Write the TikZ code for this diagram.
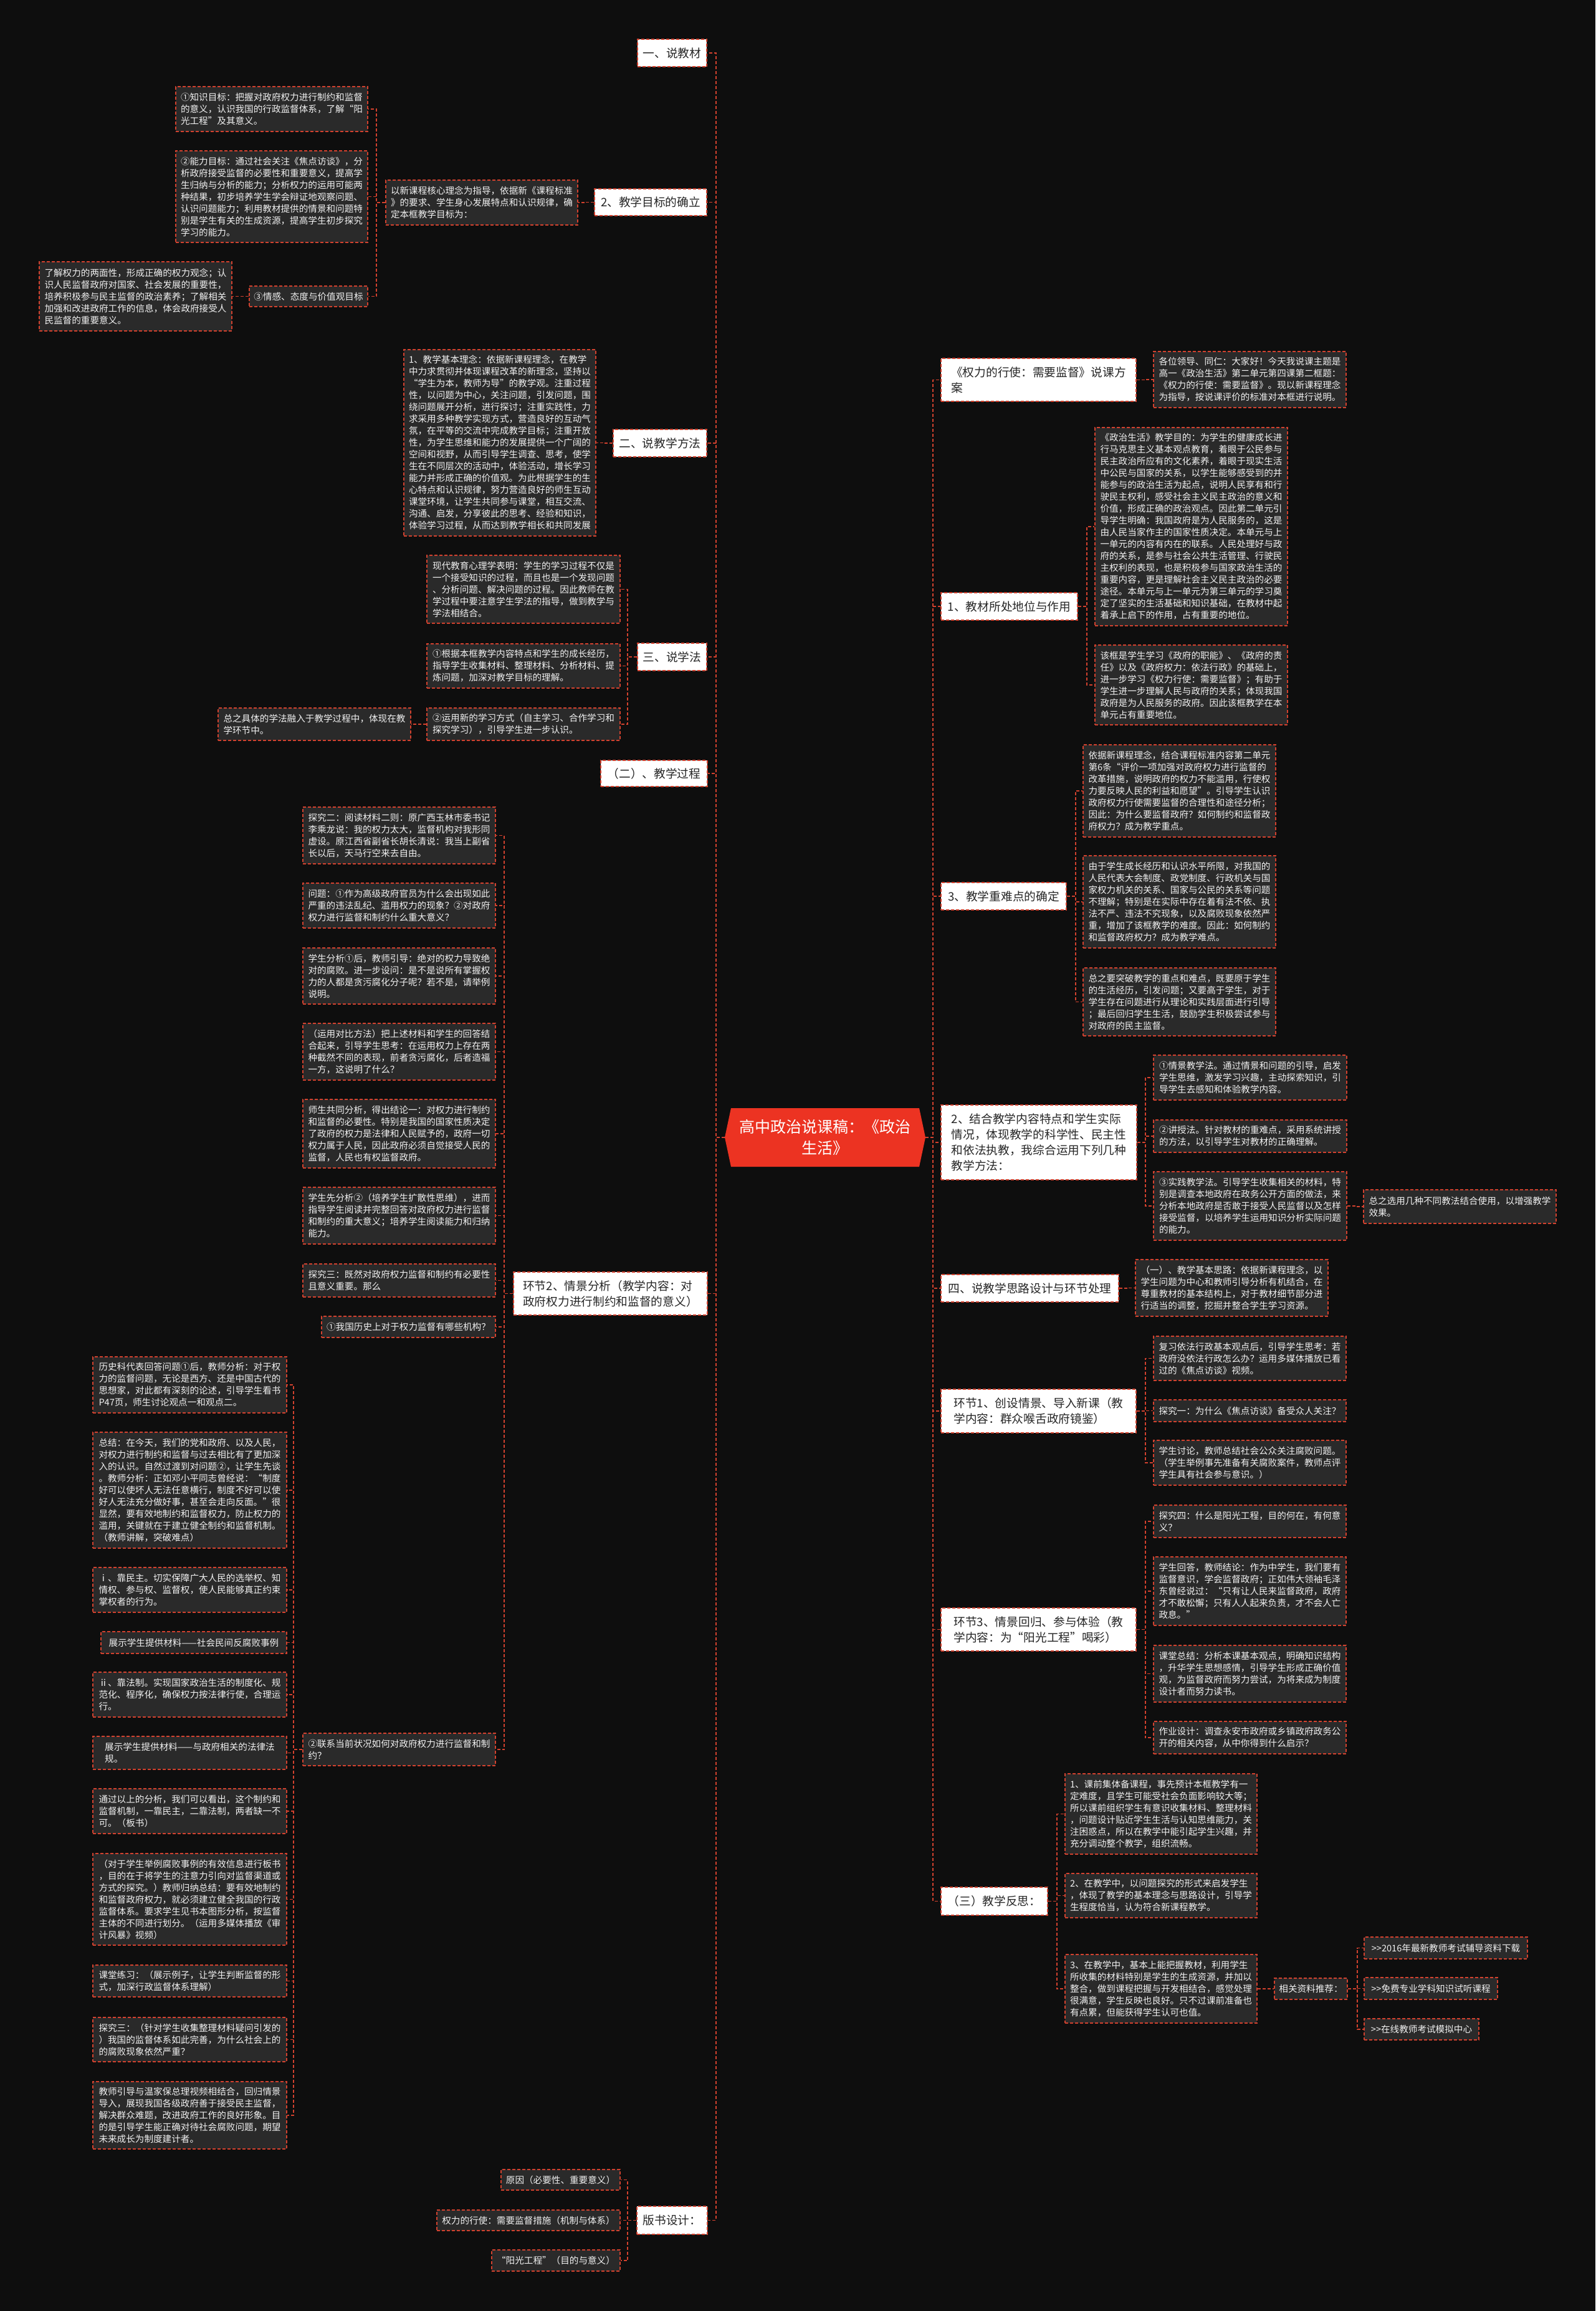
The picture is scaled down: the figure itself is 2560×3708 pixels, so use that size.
\documentclass[tikz,border=0pt]{standalone}
\usepackage{fontspec}
\setmainfont{Noto Sans CJK SC}
\definecolor{bgc}{HTML}{0E0E0E}
\definecolor{lr}{HTML}{D2412E}
\definecolor{leafbg}{HTML}{2A2A2A}
\definecolor{rootred}{HTML}{EC3322}
\definecolor{maintext}{HTML}{262626}
\definecolor{leaftext}{HTML}{F2F2F2}
\tikzset{
 boxline/.style={draw=lr,line width=1.6pt,dash pattern=on 5pt off 3pt},
 leaf/.style={boxline,fill=leafbg,text=leaftext,font=\fontsize{14.6pt}{19pt}\selectfont,align=left,inner xsep=6pt,inner ysep=5pt},
 mainbox/.style={boxline,fill=white,text=maintext,font=\fontsize{18.7pt}{25pt}\selectfont,align=left,inner xsep=9pt,inner ysep=5pt},
 conn/.style={draw=lr,line width=1.6pt,dash pattern=on 5pt off 3pt},
}
\newcommand\mkleaf[6]{\node[leaf,minimum width=#4pt,minimum height=#5pt] (#1) at (#2,#3) {#6};}
\newcommand\mkmain[6]{\node[mainbox,minimum width=#4pt,minimum height=#5pt] (#1) at (#2,#3) {#6};}
\newcommand\gtgt{>\kern0pt>\kern0pt\relax}
\begin{document}
\begin{tikzpicture}[x=1pt,y=-1pt]
\fill[bgc] (0,0) rectangle (2560,3708);
\useasboundingbox (0,0) rectangle (2560,3708);
% root
\fill[rootred] (1163,1825) -- (1173,1778) -- (1475,1778) -- (1485,1825) -- (1475,1872) -- (1173,1872) -- cycle;
\node[draw=none,minimum width=322pt,minimum height=94pt,align=center,text=white,font=\fontsize{25pt}{34pt}\selectfont] (root) at (1324,1825) {高中政治说课稿：《政治\\生活》};

% ---------- left main nodes
\mkmain{L1}{1078.5}{85}{111}{44}{一、说教材}
\mkmain{L2}{1044}{324.5}{180}{43}{2、教学目标的确立}
\mkmain{L3}{1059}{711}{150}{44}{二、说教学方法}
\mkmain{L4}{1078.5}{1054}{111}{44}{三、说学法}
\mkmain{L5}{1049.5}{1241}{171}{42}{（二）、教学过程}
\mkmain{L6}{979.5}{2075.5}{311}{69}{环节2、情景分析（教学内容：对\\政府权力进行制约和监督的意义）}
\mkmain{L7}{1078.5}{3562.5}{113}{45}{版书设计：}

% L2 subtree
\mkleaf{L2a}{773}{325}{308}{72}{以新课程核心理念为指导，依据新《课程标准\\》的要求、学生身心发展特点和认识规律，确\\定本框教学目标为：}
\mkleaf{L2a1}{436}{175}{308}{72}{①知识目标：把握对政府权力进行制约和监督\\的意义，认识我国的行政监督体系，了解“阳\\光工程”及其意义。}
\mkleaf{L2a2}{436}{315.5}{308}{147}{②能力目标：通过社会关注《焦点访谈》，分\\析政府接受监督的必要性和重要意义，提高学\\生归纳与分析的能力；分析权力的运用可能两\\种结果，初步培养学生学会辩证地观察问题、\\认识问题能力；利用教材提供的情景和问题特\\别是学生有关的生成资源，提高学生初步探究\\学习的能力。}
\mkleaf{L2a3}{495}{475.5}{190}{33}{③情感、态度与价值观目标}
\mkleaf{L2a3a}{217.5}{475.5}{309}{111}{了解权力的两面性，形成正确的权力观念；认\\识人民监督政府对国家、社会发展的重要性，\\培养积极参与民主监督的政治素养；了解相关\\加强和改进政府工作的信息，体会政府接受人\\民监督的重要意义。}

% L3
\mkleaf{L3a}{802}{710.5}{308}{299}{1、教学基本理念：依据新课程理念，在教学\\中力求贯彻并体现课程改革的新理念，坚持以\\“学生为本，教师为导”的教学观。注重过程\\性，以问题为中心，关注问题，引发问题，围\\绕问题展开分析，进行探讨；注重实践性，力\\求采用多种教学实现方式，营造良好的互动气\\氛，在平等的交流中完成教学目标；注重开放\\性，为学生思维和能力的发展提供一个广阔的\\空间和视野，从而引导学生调查、思考，使学\\生在不同层次的活动中，体验活动，增长学习\\能力并形成正确的价值观。为此根据学生的生\\心特点和认识规律，努力营造良好的师生互动\\课堂环境，让学生共同参与课堂，相互交流、\\沟通、启发，分享彼此的思考、经验和知识，\\体验学习过程，从而达到教学相长和共同发展}

% L4
\mkleaf{L4a}{840}{945.5}{310}{109}{现代教育心理学表明：学生的学习过程不仅是\\一个接受知识的过程，而且也是一个发现问题\\、分析问题、解决问题的过程。因此教师在教\\学过程中要注意学生学法的指导，做到教学与\\学法相结合。}
\mkleaf{L4b}{840}{1068.5}{310}{71}{①根据本框教学内容特点和学生的成长经历，\\指导学生收集材料、整理材料、分析材料、提\\炼问题，加深对教学目标的理解。}
\mkleaf{L4c}{840}{1162}{310}{52}{②运用新的学习方式（自主学习、合作学习和\\探究学习），引导学生进一步认识。}
\mkleaf{L4c1}{504.5}{1162}{309}{52}{总之具体的学法融入于教学过程中，体现在教\\学环节中。}

% L6 children
\mkleaf{c1}{640.5}{1340.5}{309}{91}{探究二：阅读材料二则：原广西玉林市委书记\\李乘龙说：我的权力太大，监督机构对我形同\\虚设。原江西省副省长胡长清说：我当上副省\\长以后，天马行空来去自由。}
\mkleaf{c2}{640.5}{1453}{309}{72}{问题：①作为高级政府官员为什么会出现如此\\严重的违法乱纪、滥用权力的现象？②对政府\\权力进行监督和制约什么重大意义？}
\mkleaf{c3}{640.5}{1566}{309}{90}{学生分析①后，教师引导：绝对的权力导致绝\\对的腐败。进一步设问：是不是说所有掌握权\\力的人都是贪污腐化分子呢？若不是，请举例\\说明。}
\mkleaf{c4}{640.5}{1687.5}{309}{91}{（运用对比方法）把上述材料和学生的回答结\\合起来，引导学生思考：在运用权力上存在两\\种截然不同的表现，前者贪污腐化，后者造福\\一方，这说明了什么？}
\mkleaf{c5}{640.5}{1819}{309}{110}{师生共同分析，得出结论一：对权力进行制约\\和监督的必要性。特别是我国的国家性质决定\\了政府的权力是法律和人民赋予的，政府一切\\权力属于人民，因此政府必须自觉接受人民的\\监督，人民也有权监督政府。}
\mkleaf{c6}{640.5}{1950.5}{309}{91}{学生先分析②（培养学生扩散性思维），进而\\指导学生阅读并完整回答对政府权力进行监督\\和制约的重大意义；培养学生阅读能力和归纳\\能力。}
\mkleaf{c7}{640.5}{2054.5}{309}{53}{探究三：既然对政府权力监督和制约有必要性\\且意义重要。那么}
\mkleaf{c8}{655.5}{2129}{279}{34}{①我国历史上对于权力监督有哪些机构？}
\mkleaf{c9}{640.5}{2807}{309}{52}{②联系当前状况如何对政府权力进行监督和制\\约？}

% c9 children
\mkleaf{ka}{304.5}{2222}{311}{90}{历史科代表回答问题①后，教师分析：对于权\\力的监督问题，无论是西方、还是中国古代的\\思想家，对此都有深刻的论述，引导学生看书\\P47页，师生讨论观点一和观点二。}
\mkleaf{kb}{304.5}{2391}{311}{186}{总结：在今天，我们的党和政府、以及人民，\\对权力进行制约和监督与过去相比有了更加深\\入的认识。自然过渡到对问题②，让学生先谈\\。教师分析：正如邓小平同志曾经说：“制度\\好可以使坏人无法任意横行，制度不好可以使\\好人无法充分做好事，甚至会走向反面。”很\\显然，要有效地制约和监督权力，防止权力的\\滥用，关键就在于建立健全制约和监督机制。\\（教师讲解，突破难点）}
\mkleaf{kc}{304.5}{2551}{311}{72}{ⅰ、靠民主。切实保障广大人民的选举权、知\\情权、参与权、监督权，使人民能够真正约束\\掌权者的行为。}
\mkleaf{kd}{311}{2635.5}{298}{35}{展示学生提供材料——社会民间反腐败事例}
\mkleaf{ke}{304.5}{2719}{311}{72}{ⅱ、靠法制。实现国家政治生活的制度化、规\\范化、程序化，确保权力按法律行使，合理运\\行。}
\mkleaf{kf}{304.5}{2812.5}{311}{53}{展示学生提供材料——与政府相关的法律法\\规。}
\mkleaf{kg}{304.5}{2906}{311}{72}{通过以上的分析，我们可以看出，这个制约和\\监督机制，一靠民主，二靠法制，两者缺一不\\可。（板书）}
\mkleaf{kh}{304.5}{3047.5}{311}{147}{（对于学生举例腐败事例的有效信息进行板书\\，目的在于将学生的注意力引向对监督渠道或\\方式的探究。）教师归纳总结：要有效地制约\\和监督政府权力，就必须建立健全我国的行政\\监督体系。要求学生见书本图形分析，按监督\\主体的不同进行划分。（运用多媒体播放《审\\计风暴》视频）}
\mkleaf{ki}{304.5}{3178.5}{311}{51}{课堂练习：（展示例子，让学生判断监督的形\\式，加深行政监督体系理解）}
\mkleaf{kj}{304.5}{3272.5}{311}{71}{探究三：（针对学生收集整理材料疑问引发的\\）我国的监督体系如此完善，为什么社会上的\\的腐败现象依然严重？}
\mkleaf{kk}{304.5}{3394}{311}{108}{教师引导与温家保总理视频相结合，回归情景\\导入，展现我国各级政府善于接受民主监督，\\解决群众难题，改进政府工作的良好形象。目\\的是引导学生能正确对待社会腐败问题，期望\\未来成长为制度建计者。}

% L7 children
\mkleaf{p1}{899.5}{3497.5}{191}{33}{原因（必要性、重要意义）}
\mkleaf{p2}{848}{3562.5}{294}{33}{权力的行使：需要监督措施（机制与体系）}
\mkleaf{p3}{892}{3627}{206}{34}{“阳光工程”（目的与意义）}

% ---------- right main nodes
\mkmain{R1}{1666.5}{609.5}{313}{69}{《权力的行使：需要监督》说课方\\案}
\mkmain{R2}{1619.5}{973}{219}{44}{1、教材所处地位与作用}
\mkmain{R3}{1610.5}{1438}{201}{44}{3、教学重难点的确定}
\mkmain{R4}{1667}{1833}{314}{120}{2、结合教学内容特点和学生实际\\情况，体现教学的科学性、民主性\\和依法执教，我综合运用下列几种\\教学方法：}
\mkmain{R5}{1652.5}{2067}{285}{44}{四、说教学思路设计与环节处理}
\mkmain{R6}{1666.5}{2264}{313}{70}{环节1、创设情景、导入新课（教\\学内容：群众喉舌政府镜鉴）}
\mkmain{R7}{1666.5}{2614.5}{313}{69}{环节3、情景回归、参与体验（教\\学内容：为“阳光工程”喝彩）}
\mkmain{R8}{1595.5}{3050.5}{171}{45}{（三）教学反思：}

\mkleaf{R1a}{2005.5}{609}{309}{90}{各位领导、同仁：大家好！今天我说课主题是\\高一《政治生活》第二单元第四课第二框题：\\《权力的行使：需要监督》。现以新课程理念\\为指导，按说课评价的标准对本框进行说明。}
\mkleaf{R2a}{1911.5}{845}{309}{318}{《政治生活》教学目的：为学生的健康成长进\\行马克思主义基本观点教育，着眼于公民参与\\民主政治所应有的文化素养，着眼于现实生活\\中公民与国家的关系，以学生能够感受到的并\\能参与的政治生活为起点，说明人民享有和行\\驶民主权利，感受社会主义民主政治的意义和\\价值，形成正确的政治观点。因此第二单元引\\导学生明确：我国政府是为人民服务的，这是\\由人民当家作主的国家性质决定。本单元与上\\一单元的内容有内在的联系。人民处理好与政\\府的关系，是参与社会公共生活管理、行驶民\\主权利的表现，也是积极参与国家政治生活的\\重要内容，更是理解社会主义民主政治的必要\\途径。本单元与上一单元为第三单元的学习奠\\定了坚实的生活基础和知识基础，在教材中起\\着承上启下的作用，占有重要的地位。}
\mkleaf{R2b}{1911.5}{1099}{309}{128}{该框是学生学习《政府的职能》、《政府的责\\任》以及《政府权力：依法行政》的基础上，\\进一步学习《权力行使：需要监督》；有助于\\学生进一步理解人民与政府的关系；体现我国\\政府是为人民服务的政府。因此该框教学在本\\单元占有重要地位。}
\mkleaf{R3a}{1892.5}{1269}{309}{148}{依据新课程理念，结合课程标准内容第二单元\\第6条“评价一项加强对政府权力进行监督的\\改革措施，说明政府的权力不能滥用，行使权\\力要反映人民的利益和愿望”。引导学生认识\\政府权力行使需要监督的合理性和途径分析；\\因此：为什么要监督政府？如何制约和监督政\\府权力？成为教学重点。}
\mkleaf{R3b}{1892.5}{1447}{309}{148}{由于学生成长经历和认识水平所限，对我国的\\人民代表大会制度、政党制度、行政机关与国\\家权力机关的关系、国家与公民的关系等问题\\不理解；特别是在实际中存在着有法不依、执\\法不严、违法不究现象，以及腐败现象依然严\\重，增加了该框教学的难度。因此：如何制约\\和监督政府权力？成为教学难点。}
\mkleaf{R3c}{1892.5}{1607.5}{309}{109}{总之要突破教学的重点和难点，既要原于学生\\的生活经历，引发问题；又要高于学生，对于\\学生存在问题进行从理论和实践层面进行引导\\；最后回归学生生活，鼓励学生积极尝试参与\\对政府的民主监督。}
\mkleaf{R4a}{2006}{1729}{310}{72}{①情景教学法。通过情景和问题的引导，启发\\学生思维，激发学习兴趣，主动探索知识，引\\导学生去感知和体验教学内容。}
\mkleaf{R4b}{2006}{1823}{310}{52}{②讲授法。针对教材的重难点，采用系统讲授\\的方法，以引导学生对教材的正确理解。}
\mkleaf{R4c}{2006}{1935}{310}{110}{③实践教学法。引导学生收集相关的材料，特\\别是调查本地政府在政务公开方面的做法，来\\分析本地政府是否敢于接受人民监督以及怎样\\接受监督，以培养学生运用知识分析实际问题\\的能力。}
\mkleaf{R4c1}{2342.5}{1936}{309}{54}{总之选用几种不同教法结合使用，以增强教学\\效果。}
\mkleaf{R5a}{1976.5}{2066.5}{309}{91}{（一）、教学基本思路：依据新课程理念，以\\学生问题为中心和教师引导分析有机结合，在\\尊重教材的基本结构上，对于教材细节部分进\\行适当的调整，挖掘并整合学生学习资源。}
\mkleaf{R6a}{2005.5}{2179.5}{309}{71}{复习依法行政基本观点后，引导学生思考：若\\政府没依法行政怎么办？运用多媒体播放已看\\过的《焦点访谈》视频。}
\mkleaf{R6b}{2005.5}{2263.5}{309}{35}{探究一：为什么《焦点访谈》备受众人关注？}
\mkleaf{R6c}{2005.5}{2347}{309}{72}{学生讨论，教师总结社会公众关注腐败问题。\\（学生举例事先准备有关腐败案件，教师点评\\学生具有社会参与意识。）}
\mkleaf{R7a}{2005.5}{2441}{309}{52}{探究四：什么是阳光工程，目的何在，有何意\\义？}
\mkleaf{R7b}{2005.5}{2553}{309}{110}{学生回答，教师结论：作为中学生，我们要有\\监督意识，学会监督政府；正如伟大领袖毛泽\\东曾经说过：“只有让人民来监督政府，政府\\才不敢松懈；只有人人起来负责，才不会人亡\\政息。”}
\mkleaf{R7c}{2005.5}{2685.5}{309}{91}{课堂总结：分析本课基本观点，明确知识结构\\，升华学生思想感情，引导学生形成正确价值\\观，为监督政府而努力尝试，为将来成为制度\\设计者而努力读书。}
\mkleaf{R7d}{2005.5}{2788}{309}{52}{作业设计：调查永安市政府或乡镇政府政务公\\开的相关内容，从中你得到什么启示？}
\mkleaf{R8a}{1863}{2910.5}{308}{129}{1、课前集体备课程，事先预计本框教学有一\\定难度，且学生可能受社会负面影响较大等；\\所以课前组织学生有意识收集材料、整理材料\\，问题设计贴近学生生活与认知思维能力，关\\注困惑点，所以在教学中能引起学生兴趣，并\\充分调动整个教学，组织流畅。}
\mkleaf{R8b}{1863}{3041.5}{308}{71}{2、在教学中，以问题探究的形式来启发学生\\，体现了教学的基本理念与思路设计，引导学\\生程度恰当，认为符合新课程教学。}
\mkleaf{R8c}{1863}{3191}{308}{110}{3、在教学中，基本上能把握教材，利用学生\\所收集的材料特别是学生的生成资源，并加以\\整合，做到课程把握与开发相结合，感觉处理\\很满意，学生反映也良好。只不过课前准备也\\有点累，但能获得学生认可也值。}
\mkleaf{R8c1}{2103.5}{3191}{117}{34}{相关资料推荐：}
\mkleaf{q1}{2320}{3125.5}{262}{35}{\gtgt 2016年最新教师考试辅导资料下载}
\mkleaf{q2}{2296}{3190.5}{214}{35}{\gtgt 免费专业学科知识试听课程}
\mkleaf{q3}{2281}{3256}{184}{34}{\gtgt 在线教师考试模拟中心}

% ---------- connectors
\foreach \n in {L1,L2,L3,L4,L5,L6,L7}{\draw[conn] (root.west) -- ++(-14,0) |- (\n.east);}
\foreach \n in {R1,R2,R3,R4,R5,R6,R7,R8}{\draw[conn] (root.east) -- ++(12,0) |- (\n.west);}
\draw[conn] (L2.west) -- ++(-13,0) |- (L2a.east);
\foreach \n in {L2a1,L2a2,L2a3}{\draw[conn] (L2a.west) -- ++(-14,0) |- (\n.east);}
\draw[conn] (L2a3.west) -- ++(-14,0) |- (L2a3a.east);
\draw[conn] (L3.west) -- ++(-14,0) |- (L3a.east);
\foreach \n in {L4a,L4b,L4c}{\draw[conn] (L4.west) -- ++(-15,0) |- (\n.east);}
\draw[conn] (L4c.west) -- ++(-13,0) |- (L4c1.east);
\foreach \n in {c1,c2,c3,c4,c5,c6,c7,c8,c9}{\draw[conn] (L6.west) -- ++(-14,0) |- (\n.east);}
\foreach \n in {ka,kb,kc,kd,ke,kf,kg,kh,ki,kj,kk}{\draw[conn] (c9.west) -- ++(-14,0) |- (\n.east);}
\foreach \n in {p1,p2,p3}{\draw[conn] (L7.west) -- ++(-14,0) |- (\n.east);}
\draw[conn] (R1.east) -- ++(14,0) |- (R1a.west);
\foreach \n in {R2a,R2b}{\draw[conn] (R2.east) -- ++(14,0) |- (\n.west);}
\foreach \n in {R3a,R3b,R3c}{\draw[conn] (R3.east) -- ++(14,0) |- (\n.west);}
\foreach \n in {R4a,R4b,R4c}{\draw[conn] (R4.east) -- ++(13,0) |- (\n.west);}
\draw[conn] (R4c.east) -- ++(13,0) |- (R4c1.west);
\draw[conn] (R5.east) -- ++(13,0) |- (R5a.west);
\foreach \n in {R6a,R6b,R6c}{\draw[conn] (R6.east) -- ++(14,0) |- (\n.west);}
\foreach \n in {R7a,R7b,R7c,R7d}{\draw[conn] (R7.east) -- ++(14,0) |- (\n.west);}
\foreach \n in {R8a,R8b,R8c}{\draw[conn] (R8.east) -- ++(14,0) |- (\n.west);}
\draw[conn] (R8c.east) -- ++(14,0) |- (R8c1.west);
\foreach \n in {q1,q2,q3}{\draw[conn] (R8c1.east) -- ++(15,0) |- (\n.west);}
\end{tikzpicture}
\end{document}
